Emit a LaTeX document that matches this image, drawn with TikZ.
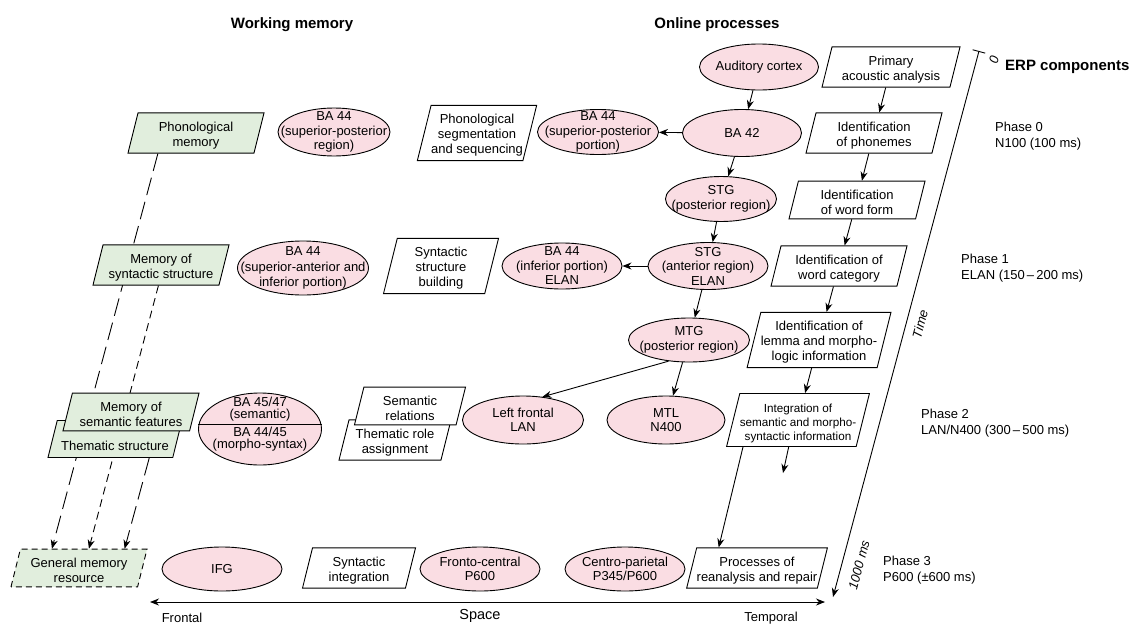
\documentclass[tikz,border=0pt]{standalone}
\usepackage{fontspec}
\setmainfont{Liberation Sans}
\usetikzlibrary{shapes.geometric,arrows.meta,calc,backgrounds}

\definecolor{brainpink}{RGB}{250,221,227}
\definecolor{memgreen}{RGB}{225,238,221}

% lowers the text in the slanted boxes a little
\newcommand{\boxtop}{\rule{0pt}{14.5pt}}

\tikzset{
  brain/.style={ellipse, draw, fill=brainpink, line width=0.9pt, inner xsep=-40pt, inner ysep=-30pt,
    minimum width=120pt, minimum height=46pt, align=center, font=\fontsize{13}{14.5}\selectfont},
  proc/.style={trapezium, trapezium left angle=76, trapezium right angle=104, trapezium stretches body,
    draw, fill=white, line width=0.9pt, inner xsep=0pt, inner ysep=4pt, minimum width=136pt, align=center},
  mem/.style={proc, fill=memgreen},
  arr/.style={-{Stealth[length=9pt,width=7pt]}, line width=0.9pt},
  longdash/.style={dash pattern=on 18pt off 7pt},
  shortdash/.style={dash pattern=on 8pt off 5pt},
  head/.style={font=\fontsize{15}{18}\selectfont\bfseries},
  phase/.style={anchor=west, align=left, inner sep=0pt, font=\fontsize{13}{16}\selectfont},
  timelbl/.style={rotate=75, inner sep=0pt, font=\fontsize{13}{15}\selectfont\itshape}
}

\begin{document}
\begin{tikzpicture}[x=1pt, y=-1pt, font=\fontsize{13}{15}\selectfont]
\useasboundingbox (0,0) rectangle (1131,624);

% headings
\node[head] (wmhead) at (292,25) {Working memory};
\node[head] (ophead) at (717,25) {Online processes};
\node[head, anchor=west, inner sep=0pt] (erphead) at (1005,67) {ERP components};

% working memory
\node[mem] (phonmem) at (196,133) {\boxtop Phonological\\memory};
\node[mem] (syntmem) at (161,265) {\boxtop Memory of\\syntactic structure};
\node[mem, minimum width=134pt] (themstr) at (115,439) {\rule[-3pt]{0pt}{29pt}Thematic structure};
\node[mem] (semmem) at (131,412) {\boxtop Memory of\\semantic features};
\node[mem, dashed, dash pattern=on 6pt off 4pt] (gmr) at (79,568) {\boxtop General memory\\resource};

% brain areas, working memory side
\node[brain, minimum width=112pt, minimum height=48pt] (ba44reg) at (334,132) {BA 44\\(superior-posterior\\region)};
\node[brain, minimum width=131pt, minimum height=54pt, font=\fontsize{13}{15.5}\selectfont] (ba44sai) at (303,268) {BA 44\\(superior-anterior and\\inferior portion)};
\node[brain, minimum width=123pt, minimum height=72pt, font=\fontsize{13}{12.5}\selectfont] (ba4547) at (260,429) {BA 45/47\\(semantic)\\[5pt]BA 44/45\\(morpho-syntax)\rule[-12pt]{0pt}{12pt}};
\draw[line width=0.9pt] (ba4547.176) -- (ba4547.4);
\node[brain, minimum height=44pt] (ifg) at (222,569) {IFG};

% middle boxes
\node[proc, minimum width=116pt] (phonseg) at (477,133) {\boxtop Phonological\\segmentation\\and sequencing};
\node[proc, minimum width=115pt] (syntbuild) at (441,266) {\boxtop Syntactic\\structure\\building};
\node[proc, minimum width=112pt] (themrole) at (395,440) {\boxtop Thematic role\\assignment};
\node[proc, minimum width=111pt] (semrel) at (410,406) {\boxtop Semantic\\relations};
\node[proc, minimum width=113pt] (syntint) at (359,568) {\boxtop Syntactic\\integration};

% online processes, brain areas
\node[brain, minimum width=119pt] (audcx) at (759,67) {Auditory cortex};
\node[brain, minimum width=119pt, minimum height=47pt] (ba42) at (742,133) {BA 42};
\node[brain, minimum width=121pt, minimum height=45pt] (ba44por) at (598,132) {BA 44\\(superior-posterior\\portion)};
\node[brain, minimum width=111pt, minimum height=45pt] (stgpost) at (721,199) {STG\\(posterior region)};
\node[brain, minimum height=47pt] (stgant) at (708,266) {STG\\(anterior region)\\ELAN};
\node[brain] (ba44inf) at (562,266) {BA 44\\(inferior portion)\\ELAN};
\node[brain, minimum width=121pt, minimum height=44pt] (mtg) at (689,340) {MTG\\(posterior region)};
\node[brain, minimum width=121pt, minimum height=48pt] (leftfr) at (523,420) {Left frontal\\LAN};
\node[brain, minimum width=118pt, minimum height=48pt] (mtl) at (666,420) {MTL\\N400};
\node[brain, minimum height=44pt] (frontc) at (480,569) {Fronto-central\\P600};
\node[brain, minimum height=44pt] (centrp) at (625,569) {Centro-parietal\\P345/P600};

% online processes, steps
\node[proc, minimum width=138pt] (primary) at (891,67) {\boxtop Primary\\acoustic analysis};
\node[proc] (phonemes) at (874,133) {\boxtop Identification\\of phonemes};
\node[proc] (wordform) at (857,200) {\boxtop Identification\\of word form};
\node[proc] (wordcat) at (839,266) {\boxtop Identification of\\word category};
\node[proc, minimum width=140pt] (lemma) at (819,340) {\boxtop Identification of\\lemma and morpho-\\logic information};
\node[proc, minimum width=140pt, font=\fontsize{11.7}{14}\selectfont] (integ) at (798,420) {\boxtop Integration of\\semantic and morpho-\\syntactic information};
\node[proc, minimum width=137pt] (reanal) at (757,568) {\boxtop Processes of\\reanalysis and repair};

\draw[arr] (audcx) -- (ba42);
\draw[arr] (ba42) -- (ba44por);
\draw[arr] (ba42) -- (stgpost);
\draw[arr] (stgpost) -- (stgant);
\draw[arr] (stgant) -- (ba44inf);
\draw[arr] (stgant) -- (mtg);
\draw[arr] (mtg.226) -- (leftfr.50);
\draw[arr] (mtg) -- (mtl);

\draw[arr] (primary) -- (phonemes);
\draw[arr] (phonemes) -- (wordform);
\draw[arr] (wordform) -- (wordcat);
\draw[arr] (wordcat) -- (lemma);
\draw[arr] (lemma) -- (integ);
\draw[arr] ($(integ.bottom left corner)!0.13!(integ.bottom right corner)$) -- ($(reanal.top left corner)!0.17!(reanal.top right corner)$);
\coordinate (integout) at (783,473);
\draw[arr] ($(integ.bottom left corner)!0.48!(integ.bottom right corner)$) -- (integout);

% memory links behind the boxes
\begin{pgfonlayer}{background}
\draw[arr, longdash] ($(phonmem.bottom left corner)!0.24!(phonmem.bottom right corner)$) -- ($(gmr.top left corner)!0.25!(gmr.top right corner)$);
\draw[arr, shortdash] ($(syntmem.bottom left corner)!0.52!(syntmem.bottom right corner)$) -- ($(gmr.top left corner)!0.54!(gmr.top right corner)$);
\draw[arr, longdash] ($(themstr.bottom left corner)!0.81!(themstr.bottom right corner)$) -- ($(gmr.top left corner)!0.82!(gmr.top right corner)$);
\end{pgfonlayer}

% time axis
\coordinate (tstart) at (979,51);
\coordinate (tend) at (833,597);
\draw[{Bar[width=13pt]}-{Stealth[length=9pt,width=7pt]}, line width=0.9pt] (tstart) -- (tend);
\node[timelbl] (tzero) at (994,60) {0};
\node[timelbl] (tlabel) at (920,324) {Time};
\node[timelbl] (tms) at (859,565) {1000 ms};

% phases
\node[phase] (ph0) at (995,136) {Phase 0\\N100 (100 ms)};
\node[phase] (ph1) at (961,268) {Phase 1\\ELAN (150\,--\,200 ms)};
\node[phase] (ph2) at (921,423) {Phase 2\\LAN/N400 (300\,--\,500 ms)};
\node[phase] (ph3) at (883,570) {Phase 3\\P600 (±600 ms)};

% space axis
\coordinate (sfront) at (150,602);
\coordinate (stemp) at (825,602);
\draw[{Stealth[length=9pt,width=7pt]}-{Stealth[length=9pt,width=7pt]}, line width=0.9pt] (sfront) -- (stemp);
\node (frontal) at (182,618) {Frontal};
\node[font=\fontsize{14.5}{16}\selectfont] (space) at (480,616) {Space};
\node (temporal) at (771,618) {Temporal};
\end{tikzpicture}
\end{document}
